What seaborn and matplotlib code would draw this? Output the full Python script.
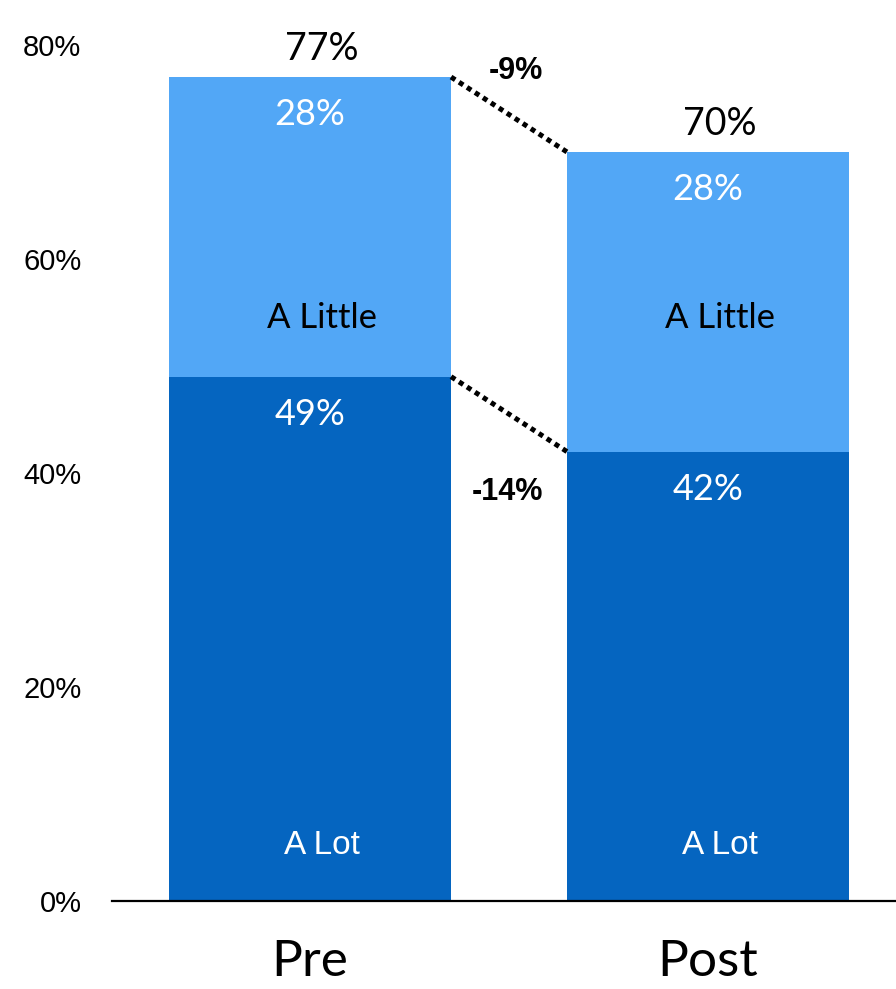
import matplotlib
matplotlib.use("Agg")
import matplotlib.pyplot as plt
import seaborn as sns
import pandas as pd

# Share of respondents, before and after
phases = ["Pre", "Post"]
a_lot = [49, 42]
a_little = [28, 28]
segment_names = ["A Lot", "A Little"]
y_ticks = [0, 20, 40, 60, 80]

DARK = "#0565C0"
LIGHT = "#52A7F6"
HUMANIST = ["Lato", "DejaVu Sans"]
GROTESK = ["Liberation Sans", "DejaVu Sans"]

totals = [lo + li for lo, li in zip(a_lot, a_little)]
df = pd.DataFrame({"phase": phases, "lot": a_lot, "little": a_little, "total": totals})

sns.set_theme(style="white")
plt.rcParams["font.family"] = GROTESK
plt.rcParams["text.color"] = "black"
plt.rcParams["xtick.color"] = "black"
plt.rcParams["ytick.color"] = "black"

fig = plt.figure(figsize=(8.96, 9.89), dpi=100)
ax = fig.add_axes([112 / 896, 88 / 989, 1 - 112 / 896, 1 - 88 / 989])

bar_w = 0.709
sns.barplot(data=df, x="phase", y="total", color=LIGHT, width=bar_w,
            saturation=1, linewidth=0, ax=ax)
sns.barplot(data=df, x="phase", y="lot", color=DARK, width=bar_w,
            saturation=1, linewidth=0, ax=ax)

ax.set_xlim(-0.497, 1.472)
ax.set_ylim(0, 84.2)
ax.set_xlabel("")
ax.set_ylabel("")

# Axis styling: only the baseline is kept
for side in ["left", "right", "top"]:
    ax.spines[side].set_visible(False)
ax.spines["bottom"].set_color("black")
ax.spines["bottom"].set_linewidth(1.6)
ax.tick_params(axis="both", length=0, colors="black")
ax.set_yticks(y_ticks)
ax.set_yticklabels([f"{t}%" for t in y_ticks], fontsize=21, family=GROTESK, color="black")
ax.tick_params(axis="y", pad=22)
ax.set_xticks(range(len(phases)))
ax.set_xticklabels(phases, fontsize=37, family=HUMANIST, color="black")
ax.tick_params(axis="x", pad=27)

half = bar_w / 2
for i in range(len(phases)):
    # totals above the bars
    ax.text(i + 0.03, totals[i] + 2.6, f"{totals[i]}%", ha="center", va="center",
            fontsize=27, color="black", family=HUMANIST)
    # segment values
    ax.text(i, totals[i] - 3.5, f"{a_little[i]}%", ha="center", va="center",
            fontsize=26, color="white", family=HUMANIST)
    ax.text(i, a_lot[i] - 3.5, f"{a_lot[i]}%", ha="center", va="center",
            fontsize=26, color="white", family=HUMANIST)
    # segment names
    ax.text(i + 0.03, 54.5, segment_names[1], ha="center", va="center",
            fontsize=25, color="black", family=HUMANIST)
    ax.text(i + 0.03, 5.2, segment_names[0], ha="center", va="center",
            fontsize=24, color="white", family=GROTESK)

# Dotted connectors showing the relative change between phases
x0, x1 = 0 + half, 1 - half
for top_pre, top_post, ytxt, dx in [(totals[0], totals[1], 77.6, 0.018),
                                    (a_lot[0], a_lot[1], 38.2, -0.005)]:
    ax.plot([x0, x1], [top_pre, top_post], color="black", linewidth=3.6,
            linestyle=(0, (1, 0.9)), solid_capstyle="butt", dash_capstyle="butt")
    change = round((top_post / top_pre - 1) * 100)
    ax.text(0.5 + dx, ytxt, f"{change}%", ha="center",
            va="center", fontsize=22, fontweight="bold", color="black", family=GROTESK)

fig.savefig("out.png", dpi=100)
